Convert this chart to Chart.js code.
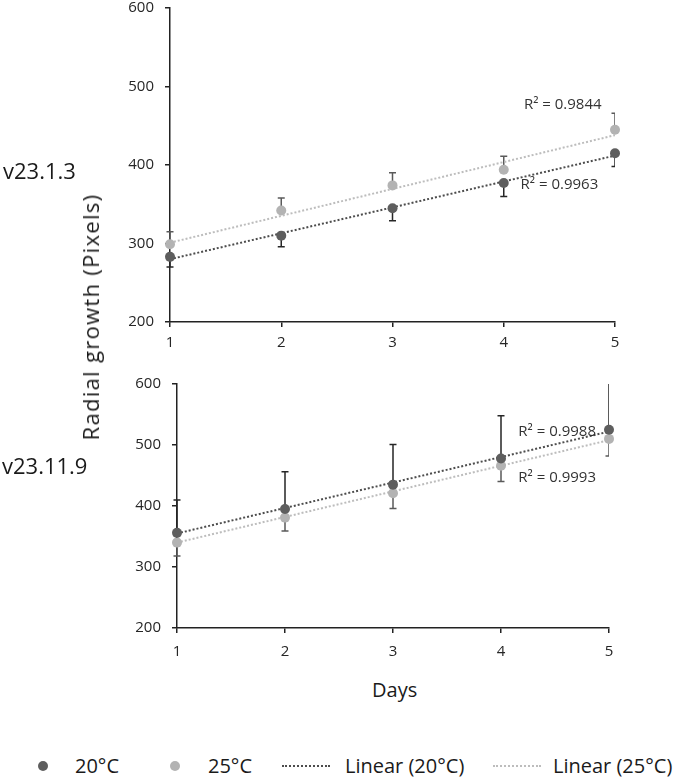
<!DOCTYPE html>
<html><head><meta charset="utf-8">
<script src="https://cdn.jsdelivr.net/npm/chart.js@4/dist/chart.umd.min.js"></script>
<style>
html,body{margin:0;padding:0;background:#fff;}
body{width:675px;height:777px;position:relative;overflow:hidden;font-family:"Open Sans",sans-serif;color:#1a1a1a;}
.abs{position:absolute;white-space:nowrap;line-height:24px;}
#w1{position:absolute;left:0;top:-12px;width:675px;height:364px;}
#w2{position:absolute;left:0;top:360px;width:675px;height:298px;}
.dot{position:absolute;width:10px;height:10px;border-radius:50%;}
.dl{position:absolute;height:0;border-top:2px dotted;}
</style></head><body>
<div id="w1"><canvas id="c1"></canvas></div>
<div id="w2"><canvas id="c2"></canvas></div>
<div class="abs" style="left:3px;top:157px;font-size:22px;line-height:26px;">v23.1.3</div>
<div class="abs" style="left:2px;top:452px;font-size:22px;line-height:26px;">v23.11.9</div>
<div class="abs" style="left:90px;top:317px;font-size:22px;letter-spacing:1.3px;transform:translate(-50%,-50%) rotate(-90deg);">Radial growth (Pixels)</div>
<div class="abs" style="left:372px;top:678px;font-size:20px;">Days</div>
<div class="dot" style="left:38px;top:761px;background:#5e5e5e;"></div>
<div class="abs" style="left:75px;top:754px;font-size:20px;">20°C</div>
<div class="dot" style="left:170px;top:761px;background:#b3b3b3;"></div>
<div class="abs" style="left:208px;top:754px;font-size:20px;">25°C</div>
<div class="dl" style="left:282px;width:48px;top:765px;border-color:#4d4d4d;"></div>
<div class="abs" style="left:345px;top:754px;font-size:20px;">Linear (20°C)</div>
<div class="dl" style="left:493px;width:48px;top:765px;border-color:#bdbdbd;"></div>
<div class="abs" style="left:553px;top:754px;font-size:20px;">Linear (25°C)</div>
<script>
// ---- data ----
const days = [1, 2, 3, 4, 5];
const yTicks = [200, 300, 400, 500, 600];
// v23.1.3 (top panel)
const top20 = [283, 310, 345, 377, 415];
const top25 = [299, 342, 374, 394, 445];
const top20ErrEnd = [270, 296, 329, 360, 398];   // lower error ends
const top25ErrEnd = [315, 358, 390, 411, 466];   // upper error ends
const topTrend20 = [280, 412];  // linear trend at day 1 and day 5
const topTrend25 = [301, 438];
const topR2 = ["R² = 0.9963", "R² = 0.9844"];
// v23.11.9 (bottom panel)
const bot20 = [356, 395, 435, 478, 525];
const bot25 = [340, 381, 421, 466, 510];
const bot20ErrEnd = [410, 456, 501, 548, 615];   // upper error ends
const bot25ErrEnd = [318, 359, 396, 440, 482];   // lower error ends
const botTrend20 = [355, 522];
const botTrend25 = [340, 508];
const botR2 = ["R² = 0.9988", "R² = 0.9993"];

const DARK = '#5e5e5e', LIGHT = '#b3b3b3';
const FONT = '"Open Sans", sans-serif';

const errPlugin = {
  id: 'errbars',
  beforeDatasetsDraw(chart, args, opts) {
    const {ctx, chartArea: a, scales: {x, y}} = chart;
    ctx.save();
    ctx.beginPath(); ctx.rect(a.left - 10, a.top, a.right - a.left + 10, a.bottom - a.top); ctx.clip();
    (opts.sets || []).forEach(s => {
      ctx.strokeStyle = s.color; ctx.lineWidth = 1.5;
      s.center.forEach((v, i) => {
        const px = x.getPixelForValue(days[i]);
        const p0 = y.getPixelForValue(v), p1 = y.getPixelForValue(s.end[i]);
        ctx.beginPath(); ctx.moveTo(px, p0); ctx.lineTo(px, p1);
        ctx.moveTo(px - 3.5, p1); ctx.lineTo(px + 3.5, p1); ctx.stroke();
      });
    });
    ctx.restore();
  },
  afterDatasetsDraw(chart, args, opts) {
    const {ctx, scales: {x, y}} = chart;
    ctx.save();
    ctx.font = '15px ' + FONT; ctx.fillStyle = '#333'; ctx.textAlign = 'center'; ctx.textBaseline = 'middle';
    (opts.labels || []).forEach(l => ctx.fillText(l.text, x.getPixelForValue(l.x), y.getPixelForValue(l.y)));
    ctx.restore();
  }
};

function axisCommon(extra) {
  return Object.assign({
    type: 'linear',
    grid: {display: true, drawOnChartArea: false, drawTicks: true, tickLength: 5, color: '#222', lineWidth: 1.5},
    border: {display: true, color: '#222', width: 1.5},
  }, extra);
}

function makeChart(id, d20, d25, t20, t25, e20, e25, labels, pad, xPad) {
  return new Chart(document.getElementById(id), {
    type: 'scatter',
    data: {
      datasets: [
        {label: '20°C', data: days.map((d, i) => ({x: d, y: d20[i]})), backgroundColor: DARK, borderWidth: 0, pointRadius: 5, order: 0, clip: false},
        {label: '25°C', data: days.map((d, i) => ({x: d, y: d25[i]})), backgroundColor: LIGHT, borderWidth: 0, pointRadius: 5, order: 1, clip: false},
        {type: 'line', label: 'Linear (20°C)', data: [{x: days[0], y: t20[0]}, {x: days[4], y: t20[1]}], borderColor: '#4d4d4d', borderWidth: 2, borderDash: [2, 2], pointRadius: 0, order: 2},
        {type: 'line', label: 'Linear (25°C)', data: [{x: days[0], y: t25[0]}, {x: days[4], y: t25[1]}], borderColor: '#bdbdbd', borderWidth: 2, borderDash: [2, 2], pointRadius: 0, order: 3},
      ]
    },
    options: {
      responsive: true, maintainAspectRatio: false, animation: false,
      layout: {padding: pad},
      plugins: {legend: {display: false}, tooltip: {enabled: false},
        errbars: {sets: [{center: d20, end: e20, color: '#262626'}, {center: d25, end: e25, color: '#5a5a5a'}], labels: labels}},
      scales: {
        x: axisCommon({min: 1, max: 5, position: 'bottom',
          ticks: {stepSize: 1, color: '#262626', font: {size: 15, family: FONT}, padding: xPad},
          afterFit: s => { s.height = 30; }}),
        y: axisCommon({min: 200, max: 600,
          ticks: {stepSize: 100, color: '#262626', font: {size: 15, family: FONT}, padding: 11,
            callback: v => yTicks.includes(v) ? String(v) : ''},
          afterFit: s => { s.width = 45; }}),
      }
    },
    plugins: [errPlugin]
  });
}

makeChart('c1', top20, top25, topTrend20, topTrend25, top20ErrEnd, top25ErrEnd,
  [{x: 4.5, y: 375, text: topR2[0]}, {x: 4.53, y: 477, text: topR2[1]}],
  {left: 125, right: 60, top: 8, bottom: 0}, 7);
makeChart('c2', bot20, bot25, botTrend20, botTrend25, bot20ErrEnd, bot25ErrEnd,
  [{x: 4.52, y: 521, text: botR2[0]}, {x: 4.52, y: 447, text: botR2[1]}],
  {left: 132, right: 66, top: 24, bottom: 0}, 10);
</script>
</body></html>
